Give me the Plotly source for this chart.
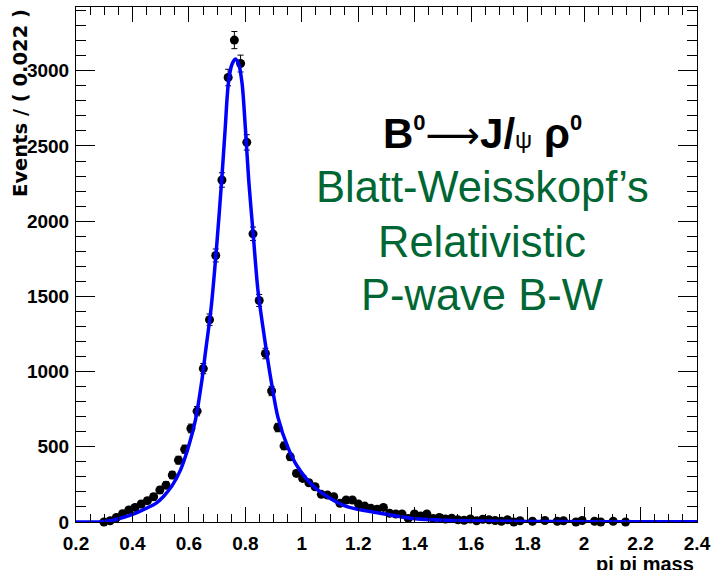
import plotly.graph_objects as go

# ---- data ----
bin_lo = 0.2
bin_w = 0.022
first_bin = 3  # first filled bin index (centre 0.277)

counts = [-20, 0, 8, 30, 55, 80, 97, 120, 142, 168,
          212, 245, 312, 411, 484, 622, 737, 1020, 1345, 1772,
          2274, 2955, 3204, 3048, 2524, 1916, 1473, 1120, 871, 628,
          506, 433, 323, 290, 261, 234, 184, 179, 168, 124,
          146, 146, 119, 106, 91, 85, 97, 58, 53, 53,
          24, 53, 40, 53, 24, 30, 20, 25, 15, 12,
          20, 8, 18, 15, 10, 5, 15, 0, 8, -10,
          5, -5, 10, -8, 5, 8, -10, 0, 10, -12,
          5, 0, -10, 5, -15, 0, -8, -12]

errors = [15, 12, 12, 14, 16, 17, 18, 19, 20, 21,
          22, 23, 24, 26, 27, 29, 31, 34, 38, 43,
          48, 55, 57, 56, 51, 45, 40, 35, 31, 28,
          25, 23, 21, 20, 19, 18, 17, 17, 17, 16,
          16, 16, 16, 15, 15, 15, 15, 15, 15, 15,
          15, 15, 15, 15, 15, 15, 15, 15, 15, 15,
          15, 15, 15, 15, 15, 15, 15, 15, 15, 15,
          15, 15, 15, 15, 15, 15, 15, 15, 15, 15,
          15, 15, 15, 15, 15, 15, 15, 15]

bin_centres = [round(bin_lo + bin_w * (first_bin + k + 0.5), 4) for k in range(len(counts))]

fit_x = [0.2, 0.279, 0.30, 0.32, 0.34, 0.36, 0.38, 0.40,
         0.424, 0.45, 0.483, 0.51, 0.54, 0.57, 0.600, 0.623,
         0.646, 0.658, 0.679, 0.698, 0.716, 0.728, 0.7395, 0.752,
         0.765, 0.777, 0.7886, 0.800, 0.812, 0.827, 0.8446, 0.8656,
         0.891, 0.915, 0.950, 0.985, 1.043, 1.101, 1.16, 1.277,
         1.393, 1.51, 1.63, 1.8, 2.0, 2.2, 2.4]
fit_y = [0, 0, 3, 9, 17, 27, 38, 50,
         69, 92, 124, 170, 240, 345, 510, 677,
         942, 1120, 1429, 1827, 2270, 2600, 2912, 3040,
         3078, 3040, 2912, 2620, 2270, 1930, 1540, 1252,
         942, 699, 500, 367, 234, 157, 102, 58,
         24, 12, 7, 4, 2, 1, 1]

x_ticks = [0.2, 0.4, 0.6, 0.8, 1.0, 1.2, 1.4, 1.6, 1.8, 2.0, 2.2, 2.4]
x_tick_text = ["0.2", "0.4", "0.6", "0.8", "1", "1.2", "1.4", "1.6", "1.8", "2", "2.2", "2.4"]
y_ticks = [0, 500, 1000, 1500, 2000, 2500, 3000]

# ---- figure ----
W, H = 717, 570
L, R, T, B = 76, 13, 6, 48
plot_w = W - L - R
plot_h = H - T - B


def px_x(p):
    return (p - L) / plot_w


def px_y(p):
    return (H - B - p) / plot_h


fig = go.Figure()
fig.add_trace(go.Scatter(
    x=bin_centres, y=counts, mode="markers",
    marker=dict(color="black", size=9, symbol="circle"),
    error_y=dict(type="data", array=errors, visible=True, color="black", thickness=1, width=3),
    cliponaxis=False, showlegend=False))
fig.add_trace(go.Scatter(
    x=fit_x, y=fit_y, mode="lines",
    line=dict(color="#0000ff", width=3.5, shape="spline", smoothing=0.8),
    showlegend=False))

tick_font = dict(family="Liberation Sans", size=19, color="black", weight="bold")

fig.update_xaxes(
    range=[0.2, 2.4], tickmode="array", tickvals=x_ticks, ticktext=x_tick_text,
    ticks="inside", ticklen=15, tickwidth=1, tickcolor="black",
    minor=dict(dtick=0.05, tick0=0.2, ticks="inside", ticklen=8, tickcolor="black", tickwidth=1, showgrid=False),
    showline=True, linecolor="black", linewidth=1, mirror="allticks",
    showgrid=False, zeroline=False, tickfont=tick_font, ticklabelstandoff=4,
    ticklabeloverflow="allow")
fig.update_yaxes(
    range=[0, 3424], tickmode="array", tickvals=y_ticks,
    ticks="inside", ticklen=19, tickwidth=1, tickcolor="black",
    minor=dict(dtick=100, tick0=0, ticks="inside", ticklen=10, tickcolor="black", tickwidth=1, showgrid=False),
    showline=True, linecolor="black", linewidth=1, mirror="allticks",
    showgrid=False, zeroline=False, tickfont=tick_font, ticklabelstandoff=2,
    ticklabeloverflow="allow")

green = "#006633"
cx = px_x(487)
annotations = [
    dict(text="<b>B<sup><span style='font-size:22px'>0</span></sup></b>"
              "<span style='font-family:DejaVu Sans;font-size:38px'>⟶</span>"
              "<b>J/</b>"
              "<span style='font-size:24px'>ψ</span> "
              "<b>ρ<sup><span style='font-size:22px'>0</span></sup></b>",
         x=cx, y=px_y(133), font=dict(family="Liberation Sans", size=42, color="black")),
    dict(text="Blatt-Weisskopf’s", x=cx, y=px_y(186.7),
         font=dict(family="Liberation Sans", size=43.5, color=green)),
    dict(text="Relativistic", x=cx, y=px_y(241.7),
         font=dict(family="Liberation Sans", size=43.5, color=green)),
    dict(text="P-wave B-W", x=cx, y=px_y(295),
         font=dict(family="Liberation Sans", size=43.5, color=green)),
    dict(text="Events / ( 0.022 )", x=px_x(20), y=px_y(102.5), textangle=-90,
         font=dict(family="DejaVu Sans", size=19.5, color="black", weight="bold")),
    dict(text="pi pi mass", x=px_x(703), y=px_y(564), xanchor="right",
         font=dict(family="Liberation Sans", size=20, color="black", weight="bold")),
]
for a in annotations:
    a.setdefault("xanchor", "center")
    a.setdefault("yanchor", "middle")
    a.update(xref="paper", yref="paper", showarrow=False)

fig.update_layout(
    width=W, height=H, autosize=False,
    margin=dict(l=L, r=R, t=T, b=B, pad=0),
    paper_bgcolor="white", plot_bgcolor="white",
    annotations=annotations)

fig.write_html("out.html", config={"displayModeBar": False},
               post_script="document.body.style.margin='0px';document.body.style.overflow='hidden';")
